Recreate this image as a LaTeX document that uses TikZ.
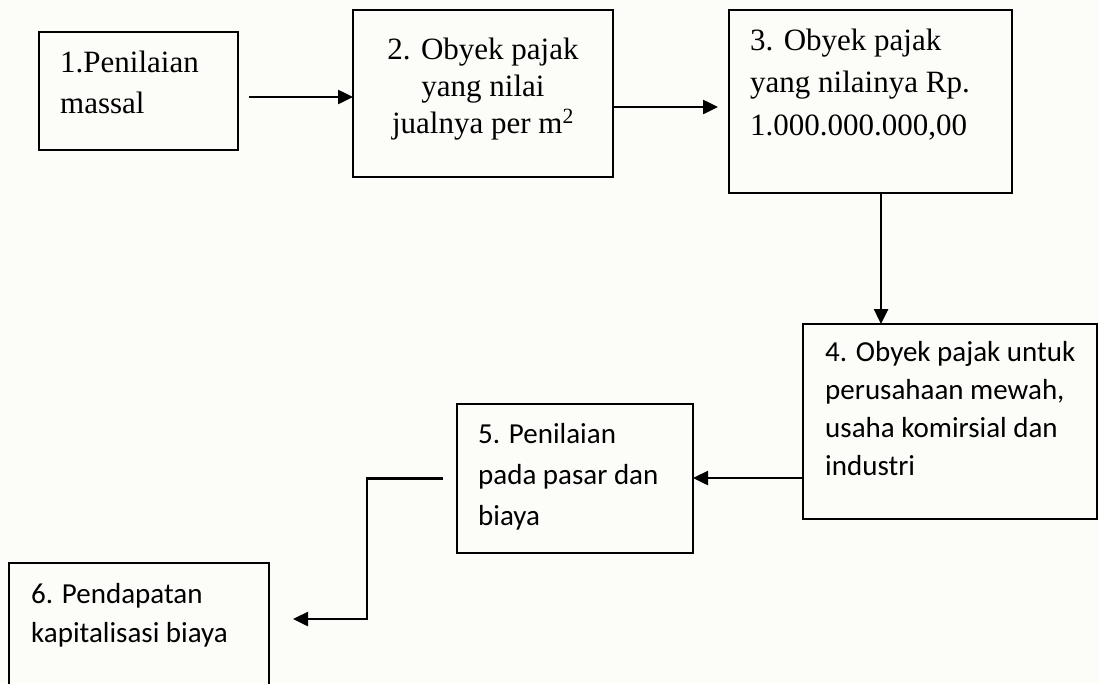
\documentclass[tikz,border=0pt]{standalone}
\usepackage{fontspec}
\setmainfont{Liberation Serif}
\newfontfamily\calib{Carlito}
\usetikzlibrary{arrows.meta}
\definecolor{bgc}{RGB}{252,252,248}
\begin{document}
\begin{tikzpicture}[x=1pt,y=-1pt,
  box/.style={draw, line width=1.8pt, inner sep=0pt, outer sep=0pt},
  arr/.style={line width=2.5pt, -{Triangle[length=15pt,width=14pt]}},
  serif/.style={inner sep=0pt, anchor=base west, align=left},
  sans/.style={inner sep=0pt, anchor=base west, align=left}]
\clip (0,0) rectangle (1099,683);
\fill[bgc] (0,0) rectangle (1099,683);
% boxes
\node[box, minimum width=199pt, minimum height=118pt] (b1) at (138.5,91) {};
\node[box, minimum width=260pt, minimum height=167pt] (b2) at (483,93.5) {};
\node[box, minimum width=283pt, minimum height=183pt] (b3) at (870.5,101.5) {};
\node[box, minimum width=294pt, minimum height=195pt] (b4) at (950,421.5) {};
\node[box, minimum width=236pt, minimum height=149pt] (b5) at (575,478.5) {};
\node[box, minimum width=260pt, minimum height=154pt] (b6) at (139,640) {};
% texts (anchor = baseline of the last line)
\node[serif, font=\fontsize{31}{41}\selectfont] (t1) at (60,113) {1.Penilaian\\massal};
\node[serif, anchor=base, align=center, font=\fontsize{31}{37}\selectfont] (t2) at (483,133) {2. Obyek pajak\\yang nilai\\jualnya per m\textsuperscript{2}};
\node[serif, font=\fontsize{31}{42.5}\selectfont] (t3) at (750,135) {3. Obyek pajak\\yang nilainya Rp.\\1.000.000.000,00};
\node[sans, font=\calib\fontsize{29}{37.7}\selectfont] (t4) at (825,475) {4. Obyek pajak untuk\\perusahaan mewah,\\usaha komirsial dan\\industri};
\node[sans, font=\calib\fontsize{29}{41}\selectfont] (t5) at (478,525) {5. Penilaian\\pada pasar dan\\biaya};
\node[sans, font=\calib\fontsize{29}{39}\selectfont] (t6) at (31,642) {6. Pendapatan\\kapitalisasi biaya};
% connectors
\draw[arr] ([shift={(11,6)}]b1.east) coordinate (a1s) -- (b2.west |- a1s);
\draw[arr] ([shift={(0,13.5)}]b2.east) coordinate (a2s) -- ([xshift=-11pt]b3.west |- a2s);
\draw[arr] ([shift={(10.5,0)}]b3.south) coordinate (a3s) -- (a3s |- b4.north);
\draw[arr] ([shift={(0,56.5)}]b4.west) coordinate (a4s) -- (b5.east |- a4s);
\draw[arr] ([shift={(-14,0)}]b5.west) -- ++(-76,0) |- ([shift={(24,-21)}]b6.east);
\end{tikzpicture}
\end{document}
